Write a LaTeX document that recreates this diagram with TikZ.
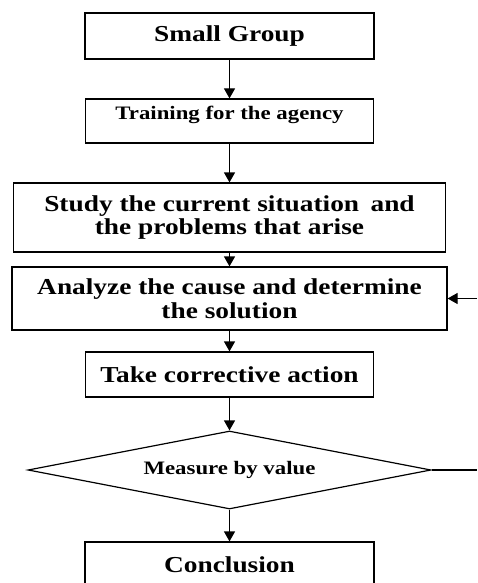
\documentclass[tikz,border=0pt]{standalone}
\usepackage{fontspec}
\setmainfont{Liberation Serif}[FakeStretch=1.2]
\usepackage{tikz}
\usetikzlibrary{arrows.meta,shapes.geometric}
\tikzset{
  pbox/.style={rectangle,draw,line width=1.2pt,inner sep=2pt,align=center,font=\bfseries\fontsize{22.8}{23.5}\selectfont},
  sbox/.style={pbox,font=\bfseries\fontsize{19}{22}\selectfont},
  dbox/.style={diamond,draw,line width=1.2pt,inner sep=0pt,aspect=5.2,font=\bfseries\fontsize{19}{22}\selectfont},
  fe/.style={-{Triangle[length=10pt,width=11pt]},line width=1.2pt},
  fl/.style={line width=1.2pt}
}
\begin{document}
\begin{tikzpicture}[x=1pt,y=-1pt]
\useasboundingbox (0,0) rectangle (477,583);
\node[pbox,minimum width=289pt,minimum height=46pt] (G) at (229.5,36)  {Small Group};
\node[sbox,minimum width=288pt,minimum height=44pt,text depth=16pt] (T) at (229.5,121) {Training for the agency};
\node[pbox,minimum width=432pt,minimum height=69pt] (S) at (229.5,217.5) {Study the current situation\enspace and\\the problems that arise};
\node[pbox,minimum width=435pt,minimum height=63pt] (A) at (229.5,298.5) {Analyze the cause and determine\\the solution};
\node[pbox,minimum width=288pt,minimum height=45pt] (C) at (229.5,374.5) {Take corrective action};
\node[dbox,minimum width=403pt,minimum height=78pt] (M) at (229.5,470) {Measure by value};
\node[pbox,minimum width=289pt,minimum height=46pt] (E) at (229.5,565) {Conclusion};
\coordinate (R1) at (477,470);
\coordinate (R2) at (477,298.5);
\draw[fe] (G) -- (T); \draw[fe] (T) -- (S);
\draw[fe] (S) -- (A); \draw[fe] (A) -- (C);
\draw[fe] (C) -- (M); \draw[fe] (M) -- (E);
\draw[fl] (M.east) -- (R1);
\draw[fe] (R2) -- (A.east);
\end{tikzpicture}
\end{document}
